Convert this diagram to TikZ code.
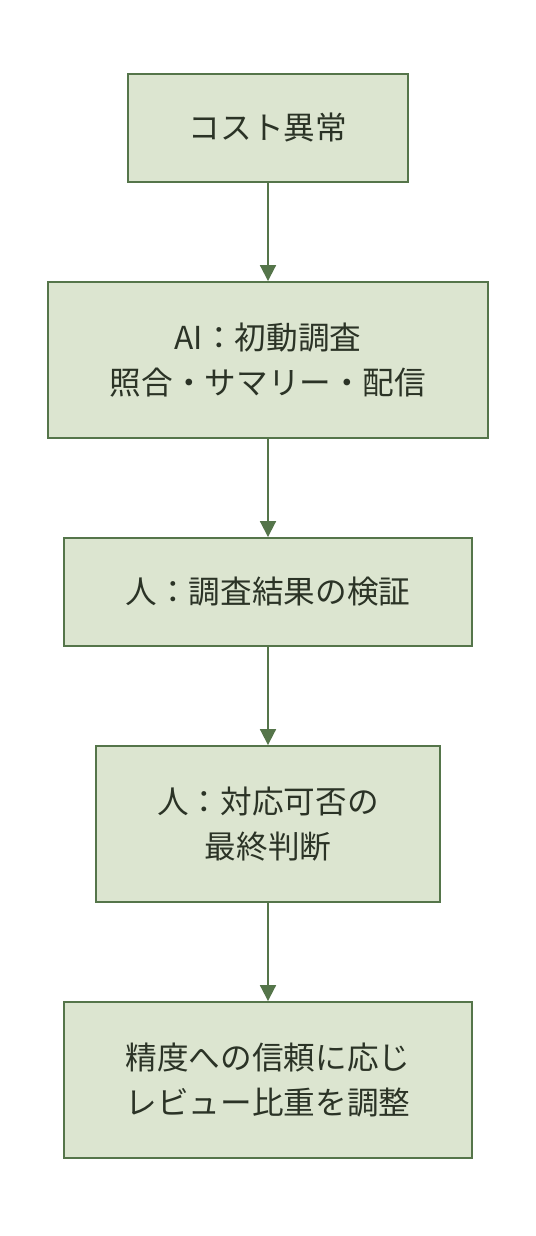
\documentclass[tikz,border=0pt]{standalone}
\usepackage{fontspec}
\setmainfont{Noto Sans CJK JP}
\usetikzlibrary{arrows.meta}
\definecolor{boxfill}{HTML}{DCE5D0}
\definecolor{boxline}{HTML}{55754A}
\definecolor{boxtext}{HTML}{2B3326}

\begin{document}
\begin{tikzpicture}[x=0.02cm,y=-0.02cm,
    stepbox/.style={draw=boxline,fill=boxfill,line width=1.1pt,text=boxtext,
        align=center,inner sep=0pt,font=\fontsize{18pt}{26pt}\selectfont},
    flow/.style={draw=boxline,line width=1.1pt,-{Triangle[length=9pt,width=9pt]}}]
    \useasboundingbox (0,0) rectangle (536,1236);
    \node[stepbox,minimum width=5.6cm,minimum height=2.16cm] (anomaly) at (268,128) {コスト異常};
    \node[stepbox,minimum width=8.8cm,minimum height=3.12cm] (aiwork) at (268,360) {AI：初動調査\\照合・サマリー・配信};
    \node[stepbox,minimum width=8.16cm,minimum height=2.16cm] (verify) at (268,592) {人：調査結果の検証};
    \node[stepbox,minimum width=6.88cm,minimum height=3.12cm] (decide) at (268,824) {人：対応可否の\\最終判断};
    \node[stepbox,minimum width=8.16cm,minimum height=3.12cm] (adjust) at (268,1080) {精度への信頼に応じ\\レビュー比重を調整};
    \draw[flow] (anomaly) -- (aiwork);
    \draw[flow] (aiwork) -- (verify);
    \draw[flow] (verify) -- (decide);
    \draw[flow] (decide) -- (adjust);
\end{tikzpicture}
\end{document}
